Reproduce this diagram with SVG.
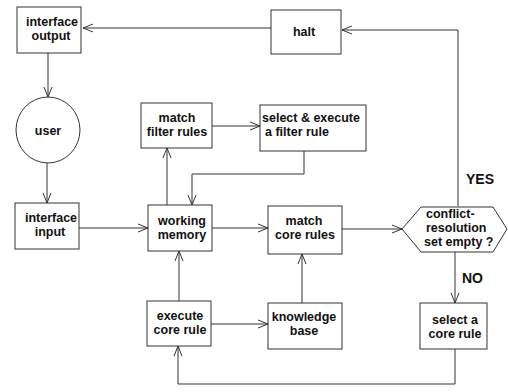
<svg xmlns="http://www.w3.org/2000/svg" width="508" height="392" viewBox="0 0 508 392">
<defs>
<style>
.box{fill:#fff;stroke:#333;stroke-width:1}
.t{font-family:"Liberation Sans",Arial,sans-serif;font-weight:bold;font-size:12.5px;fill:#111}
.c{text-anchor:middle}
.lbl{font-family:"Liberation Sans",Arial,sans-serif;font-weight:bold;font-size:14px;fill:#111}
.e{fill:none;stroke:#333;stroke-width:1;marker-end:url(#ah)}
</style>
<marker id="ah" viewBox="0 0 10 10" refX="10" refY="5" markerWidth="10" markerHeight="10" markerUnits="userSpaceOnUse" orient="auto">
<path d="M0,1 L10,5 L0,9" fill="none" stroke="#333" stroke-width="1"/>
</marker>
</defs>
<rect width="508" height="392" fill="#fff"/>
<g id="connectors">
<path class="e" d="M271,28 L83,28"/>
<path class="e" d="M458,206 L458,30 L342,30"/>
<path class="e" d="M48,53 L48,97"/>
<path class="e" d="M47,163 L47,203"/>
<path class="e" d="M79,228 L148,228"/>
<path class="e" d="M167,205 L167,148"/>
<path class="e" d="M212,126 L260,126"/>
<path class="e" d="M304,151 L304,174 L192,174 L192,205"/>
<path class="e" d="M212,228 L268,228"/>
<path class="e" d="M342,229 L402,229"/>
<path class="e" d="M455,252 L455,303"/>
<path class="e" d="M455,349 L455,384 L178,384 L178,346"/>
<path class="e" d="M179,301 L179,251"/>
<path class="e" d="M211,324 L268,324"/>
<path class="e" d="M302,303 L302,254"/>
</g>
<g id="interface-output">
<rect class="box" x="17" y="7" width="64" height="46"/>
<text class="t c" x="52" y="26">interface</text>
<text class="t c" x="51" y="40">output</text>
</g>
<g id="halt">
<rect class="box" x="271" y="10" width="70" height="44"/>
<text class="t c" x="304" y="36">halt</text>
</g>
<g id="user">
<ellipse class="box" cx="48" cy="130" rx="32" ry="33"/>
<text class="t c" x="48" y="135">user</text>
</g>
<g id="match-filter-rules">
<rect class="box" x="141" y="103" width="71" height="45"/>
<text class="t c" x="177" y="122">match</text>
<text class="t c" x="177" y="136">filter rules</text>
</g>
<g id="select-execute-filter-rule">
<rect class="box" x="260" y="105" width="106" height="46"/>
<text class="t" x="262" y="122">select &amp; execute</text>
<text class="t" x="265" y="136">a filter rule</text>
</g>
<g id="interface-input">
<rect class="box" x="15" y="203" width="64" height="46"/>
<text class="t c" x="51" y="222">interface</text>
<text class="t c" x="50" y="236">input</text>
</g>
<g id="working-memory">
<rect class="box" x="148" y="205" width="64" height="46"/>
<text class="t c" x="182" y="225">working</text>
<text class="t c" x="182" y="239">memory</text>
</g>
<g id="match-core-rules">
<rect class="box" x="268" y="206" width="74" height="48"/>
<text class="t c" x="304" y="225">match</text>
<text class="t c" x="305" y="239">core rules</text>
</g>
<g id="conflict-resolution">
<polygon class="box" points="402,229 421,207 493,207 507,229 493,252 421,252"/>
<text class="t" x="426" y="218">conflict-</text>
<text class="t" x="426" y="232">resolution</text>
<text class="t" x="424" y="246">set empty ?</text>
</g>
<text class="lbl" x="466" y="184">YES</text>
<text class="lbl" x="462" y="283">NO</text>
<g id="select-core-rule">
<rect class="box" x="420" y="303" width="67" height="46"/>
<text class="t c" x="455" y="324">select a</text>
<text class="t c" x="455" y="338">core  rule</text>
</g>
<g id="execute-core-rule">
<rect class="box" x="147" y="301" width="64" height="45"/>
<text class="t c" x="180" y="320">execute</text>
<text class="t c" x="180" y="334">core rule</text>
</g>
<g id="knowledge-base">
<rect class="box" x="268" y="303" width="74" height="46"/>
<text class="t c" x="304" y="321">knowledge</text>
<text class="t c" x="304" y="335">base</text>
</g>
</svg>
